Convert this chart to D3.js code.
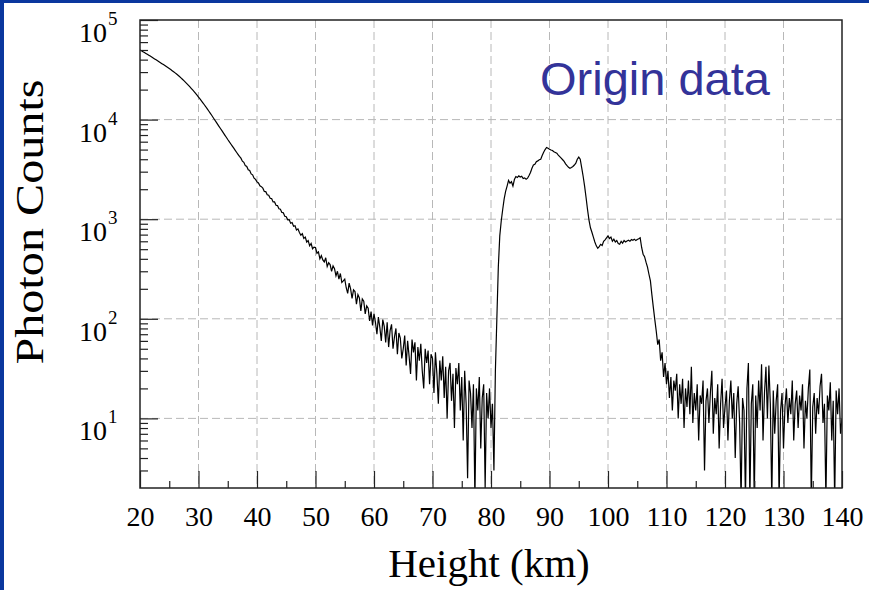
<!DOCTYPE html>
<html>
<head>
<meta charset="utf-8">
<title>Photon Counts</title>
<script src="https://cdn.jsdelivr.net/npm/d3@7/dist/d3.min.js"></script>
<style>
  body { margin: 0; background: #fff; }
  svg { display: block; }
</style>
</head>
<body>
<svg width="869" height="590" id="mainsvg"></svg>
<script>
// range bins, 0.25 km wide
const binWidth = 0.25;

// 20.00 .. 80.50 km
const rayleighStart = 20;
const rayleighCounts = [
  50100, 49100, 48100, 47150, 46200, 45250, 44300, 43400, 42450, 41550, 40700, 39800, 38950, 38100, 37300, 36450, 35650, 34850, 34050, 33300,
  32550, 31800, 31000, 30250, 29450, 28650, 27850, 27050, 26250, 25400, 24600, 23800, 23000, 22200, 21400, 20600, 19850, 19100, 18350, 17600,
  16850, 16150, 15450, 14750, 14100, 13450, 12800, 12200, 11600, 11050, 10500, 9970, 9480, 9000, 8560, 8140, 7740, 7350, 6990, 6650,
  6310, 6010, 5720, 5450, 5190, 4940, 4700, 4480, 4270, 4100, 3820, 3720, 3450, 3380, 3130, 3080, 2850, 2790, 2580, 2510,
  2370, 2310, 2160, 2120, 2050, 1900, 1890, 1760, 1740, 1620, 1610, 1490, 1490, 1380, 1370, 1270, 1260, 1170, 1160, 1070,
  1060, 985, 990, 910, 925, 850, 860, 780, 800, 735, 690, 715, 640, 660, 590, 610, 540, 570, 505, 525,
  520, 455, 470, 400, 430, 390, 372, 410, 335, 365, 350, 300, 340, 318, 270, 300, 250, 285, 232, 240,
  250, 205, 180, 228, 200, 160, 195, 188, 140, 175, 162, 120, 158, 150, 112, 135, 128, 95, 118, 86,
  112, 92, 70, 104, 82, 60, 98, 84, 58, 92, 52, 76, 88, 50, 66, 80, 44, 72, 64, 40,
  50, 68, 34, 60, 42, 28, 62, 46, 58, 24, 52, 38, 56, 30, 20, 50, 36, 48, 22, 44,
  40, 18, 46, 28, 14, 38, 24, 42, 16, 33, 10, 30, 36, 15, 28, 8, 32, 22, 36, 12,
  26, 6, 30, 14, 2.5, 24, 18, 8, 22, 1.5, 20, 12, 26, 5, 16, 22, 2, 18, 10, 20,
  8, 14, 3
];

// 80.75 .. 109.75 km
const sodiumStart = 80.75;
const sodiumCounts = [
  30, 100, 330, 680, 960, 1250, 1600, 1900, 2150, 2450,
  2300, 2380, 2150, 2500, 2680, 2620, 2720, 2650, 2700, 2560,
  2600, 2520, 2580, 2750, 2950, 3250, 3500, 3550, 3780, 3850,
  3950, 4000, 4350, 4700, 5000, 5250, 5150, 5050, 4950, 4900,
  4750, 4680, 4600, 4400, 4250, 4100, 3950, 3800, 3600, 3450,
  3320, 3250, 3300, 3380, 3500, 3650, 4000, 4200, 4000, 3300,
  2700, 2150, 1650, 1250, 980, 820, 740, 660, 590, 540,
  510, 530, 560, 545, 600, 620, 650, 680, 640, 660,
  600, 630, 590, 610, 570, 560, 600, 575, 610, 590,
  605, 615, 600, 625, 615, 630, 610, 625, 635, 650,
  520, 445, 420, 370, 330, 280, 240, 175, 130, 98,
  75, 55, 62, 38, 46, 26, 36
];

// 110.00 .. 140.00 km
const backgroundStart = 110;
const backgroundCounts = [
  22, 30, 16, 26, 12, 24, 19, 28, 10, 22, 14, 25, 8, 20, 13, 24, 11, 33, 9, 18,
  12, 22, 6, 17, 14, 24, 3, 15, 20, 9, 18, 30, 7, 16, 11, 22, 5, 14, 25, 8,
  13, 19, 6, 15, 24, 10, 18, 4, 14, 21, 9, 1.5, 16, 12, 1.5, 20, 36, 1.5, 14, 22,
  1.5, 17, 8, 24, 12, 35, 6, 18, 33, 10, 34, 14, 1.5, 19, 7, 15, 22, 1.5, 12, 18,
  5, 13, 20, 9, 16, 11, 24, 6, 14, 19, 8, 17, 12, 22, 5, 15, 10, 20, 31, 1.5,
  13, 18, 7, 16, 11, 21, 28, 9, 14, 1.5, 17, 12, 23, 6, 15, 1.5, 19, 11, 20, 7,
  10
];

const xTicks = [20, 30, 40, 50, 60, 70, 80, 90, 100, 110, 120, 130, 140];
const xMinorTicks = [25, 35, 45, 55, 65, 75, 85, 95, 105, 115, 125, 135];
const yExponents = [1, 2, 3, 4, 5];
const xTitle = 'Height (km)';
const yTitle = 'Photon Counts';
const noteText = 'Origin data';

let svg = d3.select('#mainsvg');
const plotLeft = 140, plotRight = 842, plotTop = 20, plotBottom = 488;
const serif = "'Liberation Serif', 'Times New Roman', serif";

let x = d3.scaleLinear().domain([20, 140]).range([plotLeft, plotRight]);
let y = d3.scaleLog().domain([2, 1e5]).range([plotBottom, plotTop]);

// slide frame (blue strips on the left and top)
svg.append('rect').attr('x', 0).attr('y', 0).attr('width', 4).attr('height', 590).attr('fill', '#0a379e');
svg.append('rect').attr('x', 0).attr('y', 0).attr('width', 869).attr('height', 3).attr('fill', '#0a379e');

// build the series
let points = [];
const addSegment = function(start, counts) {
  counts.forEach((c, i) => points.push({ h: start + i * binWidth, c: c }));
};
addSegment(rayleighStart, rayleighCounts);
addSegment(sodiumStart, sodiumCounts);
addSegment(backgroundStart, backgroundCounts);

// grid
let grid = svg.append('g')
  .attr('stroke', '#b8b8b8').attr('stroke-width', 1).attr('stroke-dasharray', '8,4');
grid.selectAll('line.v').data(xTicks.slice(1, -1)).join('line')
  .attr('class', 'v')
  .attr('x1', d => x(d)).attr('x2', d => x(d))
  .attr('y1', plotTop).attr('y2', plotBottom);
grid.selectAll('line.h').data(yExponents.slice(0, -1)).join('line')
  .attr('class', 'h')
  .attr('x1', plotLeft).attr('x2', plotRight)
  .attr('y1', d => y(Math.pow(10, d))).attr('y2', d => y(Math.pow(10, d)));

// data line
svg.append('clipPath').attr('id', 'plotclip')
  .append('rect').attr('x', plotLeft).attr('y', plotTop)
  .attr('width', plotRight - plotLeft).attr('height', plotBottom - plotTop);

let line = d3.line()
  .x(d => x(d.h))
  .y(d => y(d.c));

svg.append('path')
  .datum(points)
  .attr('clip-path', 'url(#plotclip)')
  .attr('fill', 'none')
  .attr('stroke', '#000')
  .attr('stroke-width', 1.2)
  .attr('d', line);

// x axis (ticks point inward)
let xAxis = svg.append('g').attr('transform', `translate(0,${plotBottom})`)
  .call(d3.axisBottom(x).tickValues(xTicks).tickSize(-17).tickFormat(d => d));
xAxis.select('.domain').remove();
xAxis.selectAll('line').attr('stroke', '#222').attr('stroke-width', 1.2);
xAxis.selectAll('text')
  .attr('y', 38).attr('dy', 0)
  .attr('fill', '#000')
  .style('font-family', serif).style('font-size', '28px');

let xMinor = svg.append('g').attr('transform', `translate(0,${plotBottom})`)
  .call(d3.axisBottom(x).tickValues(xMinorTicks).tickSize(-7).tickFormat(''));
xMinor.select('.domain').remove();
xMinor.selectAll('line').attr('stroke', '#222').attr('stroke-width', 1.2);

// y axis (log, ticks point inward)
let yMinorValues = [];
for (let k = 0; k < 5; k++) {
  for (let m = 2; m <= 9; m++) {
    let v = m * Math.pow(10, k);
    if (v > 2 && v < 1e5) yMinorValues.push(v);
  }
}
let yMinor = svg.append('g').attr('transform', `translate(${plotLeft},0)`)
  .call(d3.axisLeft(y).tickValues(yMinorValues).tickSize(-8).tickFormat(''));
yMinor.select('.domain').remove();
yMinor.selectAll('line').attr('stroke', '#222').attr('stroke-width', 1.2);

let yMajor = svg.append('g').attr('transform', `translate(${plotLeft},0)`)
  .call(d3.axisLeft(y).tickValues(yExponents.map(e => Math.pow(10, e))).tickSize(-18).tickFormat(''));
yMajor.select('.domain').remove();
yMajor.selectAll('line').attr('stroke', '#222').attr('stroke-width', 1.2);

let yLabels = svg.append('g').selectAll('g').data(yExponents).join('g')
  .attr('transform', d => `translate(0,${y(Math.pow(10, d))})`);
yLabels.append('text')
  .attr('x', 107).attr('y', 22)
  .attr('text-anchor', 'end')
  .style('font-family', serif).style('font-size', '28px')
  .text('10');
yLabels.append('text')
  .attr('x', 108).attr('y', 5)
  .style('font-family', serif).style('font-size', '19px')
  .text(d => d);

// frame
svg.append('rect')
  .attr('x', plotLeft).attr('y', plotTop)
  .attr('width', plotRight - plotLeft).attr('height', plotBottom - plotTop)
  .attr('fill', 'none').attr('stroke', '#222').attr('stroke-width', 1.5);

// titles
svg.append('text')
  .attr('x', 489).attr('y', 577)
  .attr('text-anchor', 'middle')
  .style('font-family', serif).style('font-size', '41px')
  .text(xTitle);

svg.append('text')
  .attr('transform', 'translate(43,222) rotate(-90)')
  .attr('text-anchor', 'middle')
  .attr('textLength', 285).attr('lengthAdjust', 'spacingAndGlyphs')
  .style('font-family', serif).style('font-size', '40px')
  .text(yTitle);

svg.append('text')
  .attr('x', 540).attr('y', 95)
  .attr('fill', '#333399')
  .style('font-family', "'Liberation Sans', Arial, sans-serif").style('font-size', '47px')
  .text(noteText);
</script>
</body>
</html>
